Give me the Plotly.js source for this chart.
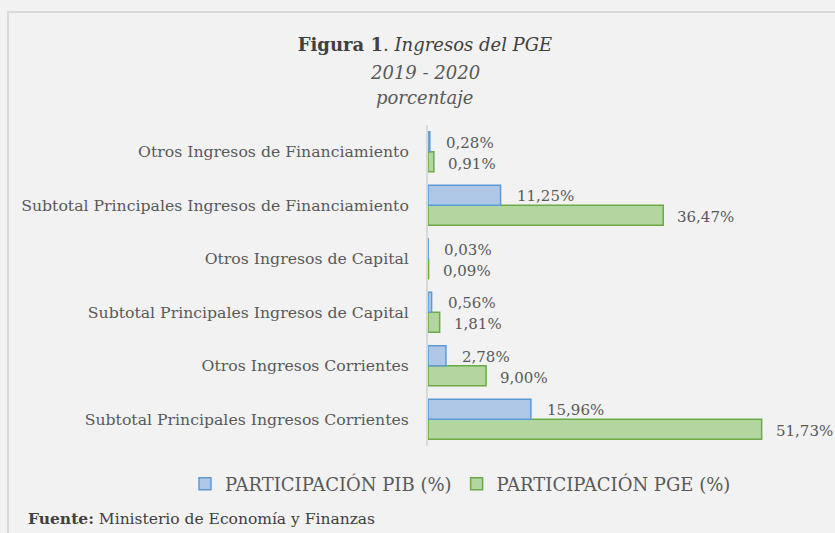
<!DOCTYPE html>
<html>
<head>
<meta charset="utf-8">
<script src="https://cdn.plot.ly/plotly-3.0.1.min.js"></script>
<style>
html,body{margin:0;padding:0;background:#f2f2f2;overflow:hidden;}
#chart{width:835px;height:533px;}
#frame{position:absolute;left:7px;top:11px;width:840px;height:540px;border:2px solid #d9d9d9;pointer-events:none;}
</style>
</head>
<body>
<div id="chart"></div>
<div id="frame"></div>
<script>
// Data (bottom to top as drawn)
const categories = [
  "Subtotal Principales Ingresos Corrientes",
  "Otros Ingresos Corrientes",
  "Subtotal Principales Ingresos de Capital",
  "Otros Ingresos de Capital",
  "Subtotal Principales Ingresos de Financiamiento",
  "Otros Ingresos de Financiamiento"
];
const pibValues = [15.96, 2.78, 0.56, 0.03, 11.25, 0.28];
const pgeValues = [51.73, 9.00, 1.81, 0.09, 36.47, 0.91];
const seriesNames = ["PARTICIPACIÓN PIB (%)", "PARTICIPACIÓN PGE (%)"];
const titleLines = ["<b>Figura 1</b>. <i>Ingresos del PGE</i>", "<i>2019 - 2020</i>", "<i>porcentaje</i>"];
const sourceText = "<b>Fuente:</b> Ministerio de Economía y Finanzas";

const fmt = v => v.toFixed(2).replace('.', ',') + '%';
const FONT = "DejaVu Serif";
const TXT = "#595959";

const tracePGE = {
  type: 'bar', orientation: 'h', name: seriesNames[1],
  y: categories, x: pgeValues,
  marker: {color: '#b3d5a0', line: {color: '#6aab45', width: 1.5}},
  hoverinfo: 'none'
};
const tracePIB = {
  type: 'bar', orientation: 'h', name: seriesNames[0],
  y: categories, x: pibValues,
  marker: {color: '#aec7e6', line: {color: '#5b9bd5', width: 1.5}},
  hoverinfo: 'none'
};

const annotations = [];
categories.forEach((c, i) => {
  annotations.push({x: pibValues[i], y: c, xref: 'x', yref: 'y', text: fmt(pibValues[i]),
    showarrow: false, xanchor: 'left', yanchor: 'middle', xshift: 14, yshift: 9,
    font: {family: FONT, size: 15, color: TXT}});
  annotations.push({x: pgeValues[i], y: c, xref: 'x', yref: 'y', text: fmt(pgeValues[i]),
    showarrow: false, xanchor: 'left', yanchor: 'middle', xshift: 12, yshift: -12,
    font: {family: FONT, size: 15, color: TXT}});
});
annotations.push({xref: 'paper', yref: 'paper', x: (425-428)/387, y: (446-72)/321, xanchor: 'center', yanchor: 'middle',
  showarrow: false, text: titleLines[1], font: {family: FONT, size: 18, color: TXT}});
annotations.push({xref: 'paper', yref: 'paper', x: (425-428)/387, y: (446-97)/321, xanchor: 'center', yanchor: 'middle',
  showarrow: false, text: titleLines[2], font: {family: FONT, size: 18, color: TXT}});
annotations.push({xref: 'paper', yref: 'paper', x: (26-428)/387, y: (446-518)/321, xanchor: 'left', yanchor: 'middle',
  showarrow: false, text: sourceText,
  font: {family: FONT, size: 15.5, color: '#404040'}});

const layout = {
  width: 835, height: 533,
  paper_bgcolor: '#f2f2f2', plot_bgcolor: '#f2f2f2',
  margin: {l: 428, r: 20, t: 125, b: 87},
  font: {family: FONT, color: TXT},
  title: {
    text: titleLines[0],
    x: 425/835, xanchor: 'center', xref: 'container',
    y: 1 - 45/533, yanchor: 'middle', yref: 'container',
    font: {family: FONT, size: 18, color: '#404040'}
  },
  barmode: 'group', bargap: 0.25, bargroupgap: 0,
  xaxis: {range: [0, 60], showgrid: false, zeroline: false, showticklabels: false, showline: false, fixedrange: true},
  yaxis: {showgrid: false, zeroline: false, showline: true, linecolor: '#d9d9d9', linewidth: 2,
    ticks: 'outside', ticklen: 14, tickcolor: 'rgba(0,0,0,0)',
    tickfont: {family: FONT, size: 15.7, color: TXT}, fixedrange: true},
  legend: {orientation: 'h', traceorder: 'reversed', xref: 'paper', yref: 'paper',
    x: (185-428)/387, xanchor: 'left', y: (446-484)/321, yanchor: 'middle',
    font: {family: FONT, size: 18, color: TXT}, bgcolor: 'rgba(0,0,0,0)'},
  annotations: annotations,
  showlegend: true
};

Plotly.newPlot('chart', [tracePGE, tracePIB], layout, {displayModeBar: false, staticPlot: true});
</script>
</body>
</html>
